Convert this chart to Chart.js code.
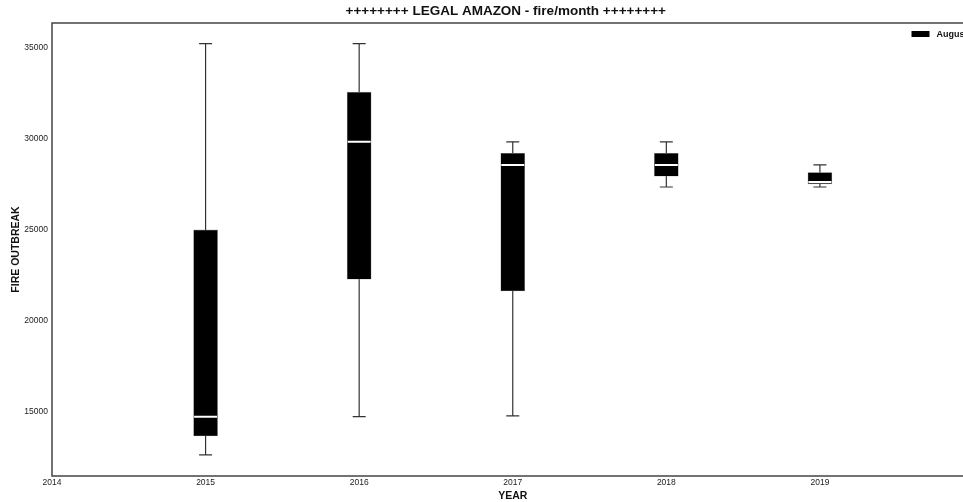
<!DOCTYPE html>
<html>
<head>
<meta charset="utf-8">
<script src="https://cdn.jsdelivr.net/npm/chart.js@4.4.1/dist/chart.umd.min.js"></script>
<style>
  html, body { margin: 0; padding: 0; background: #fff; overflow: hidden; }
  #wrap { width: 987px; height: 502px; }
</style>
</head>
<body>
<div id="wrap"><canvas id="boxChart" width="987" height="502"></canvas></div>
<script>
// ── Datos ──
const years    = [2015, 2016, 2017, 2018, 2019];
const whiskLow = [12640, 14740, 14780, 27360, 27360];
const boxQ1    = [13680, 22290, 21650, 27950, 27530];
const medians  = [14730, 29850, 28570, 28570, 27640];
const boxQ3    = [25000, 32570, 29210, 29210, 28150];
const whiskHigh = [35240, 35240, 29840, 29840, 28570];

const xTicks = [2014, 2015, 2016, 2017, 2018, 2019];
const yTicks = [15000, 20000, 25000, 30000, 35000];
const seriesLabel = 'August';
const chartTitle = '++++++++ LEGAL AMAZON - fire/month ++++++++';

const INK = '#333333';
const FONT = "'Liberation Sans', Arial, sans-serif";

// ── Datasets ──
const whiskerSets = years.map((yr, i) => ({
  type: 'line',
  label: '_w' + yr,
  data: [{ x: yr, y: whiskLow[i] }, { x: yr, y: whiskHigh[i] }],
  borderColor: INK,
  borderWidth: 1.2,
  pointRadius: 0,
  order: 3,
}));

const capSet = {
  type: 'scatter',
  label: '_caps',
  data: years.flatMap((yr, i) => [{ x: yr, y: whiskLow[i] }, { x: yr, y: whiskHigh[i] }]),
  pointStyle: 'line',
  pointRadius: 6.5,
  borderColor: INK,
  borderWidth: 1.2,
  order: 3,
};

const boxSet = {
  type: 'bar',
  label: seriesLabel,
  data: years.map((yr, i) => ({ x: yr, y: [boxQ1[i], boxQ3[i]] })),
  backgroundColor: '#000000',
  borderColor: '#9a9a9a',
  borderWidth: 0.6,
  borderSkipped: false,
  barThickness: 24,
  grouped: false,
  order: 2,
};

const medianSet = {
  type: 'scatter',
  label: '_median',
  data: years.map((yr, i) => ({ x: yr, y: medians[i] })),
  pointStyle: 'line',
  pointRadius: 11.5,
  borderColor: '#ffffff',
  borderWidth: 2,
  order: 1,
};

// ── Título, marco (spines) y leyenda arriba a la derecha ──
const framePlugin = {
  id: 'frame',
  afterDraw(chart) {
    const { ctx, chartArea: a } = chart;
    ctx.save();
    ctx.strokeStyle = '#444';
    ctx.lineWidth = 1.5;
    ctx.strokeRect(a.left, a.top, a.right - a.left, a.bottom - a.top);

    ctx.fillStyle = '#111';
    ctx.font = `bold 13.5px ${FONT}`;
    ctx.textAlign = 'center';
    ctx.textBaseline = 'middle';
    ctx.fillText(chartTitle, (a.left + a.right) / 2 - 7, 11);

    const ds = chart.data.datasets.find(d => d.label === seriesLabel);
    const bx = a.right - 62, by = a.top + 8;
    ctx.fillStyle = ds.backgroundColor;
    ctx.fillRect(bx, by, 18, 6);
    ctx.fillStyle = '#111';
    ctx.font = `bold 9px ${FONT}`;
    ctx.textAlign = 'left';
    ctx.fillText(ds.label, bx + 25, by + 3.5);
    ctx.restore();
  }
};

new Chart(document.getElementById('boxChart'), {
  data: { datasets: [...whiskerSets, capSet, boxSet, medianSet] },
  plugins: [framePlugin],
  options: {
    responsive: false,
    animation: false,
    devicePixelRatio: 1,
    layout: { padding: { left: 0, right: 6, top: 23, bottom: 0 } },
    plugins: {
      title: { display: false },
      legend: { display: false },
      tooltip: { enabled: false },
    },
    scales: {
      x: {
        type: 'linear',
        min: 2014,
        max: 2020,
        offset: false,
        afterBuildTicks: s => { s.ticks = xTicks.map(v => ({ value: v })); },
        afterFit: s => { s.height = 26; },
        grid: { display: false, drawTicks: false, offset: false },
        border: { display: false },
        ticks: {
          color: '#222',
          padding: 2,
          maxRotation: 0,
          font: { family: FONT, size: 8.5 },
          callback: v => String(v),
        },
        title: {
          display: true,
          text: 'YEAR',
          color: '#111',
          padding: { top: 0, bottom: 0 },
          font: { family: FONT, size: 10.5, weight: 'bold' },
        },
      },
      y: {
        min: 11480,
        max: 36370,
        afterBuildTicks: s => { s.ticks = yTicks.map(v => ({ value: v })); },
        afterFit: s => { s.width = 52; },
        grid: { display: false, drawTicks: false },
        border: { display: false },
        ticks: {
          color: '#222',
          padding: 4,
          font: { family: FONT, size: 8.5 },
          callback: v => String(v),
        },
        title: {
          display: true,
          text: 'FIRE OUTBREAK',
          color: '#111',
          padding: { top: 10, bottom: 0 },
          font: { family: FONT, size: 10.5, weight: 'bold' },
        },
      },
    },
  },
});
</script>
</body>
</html>
